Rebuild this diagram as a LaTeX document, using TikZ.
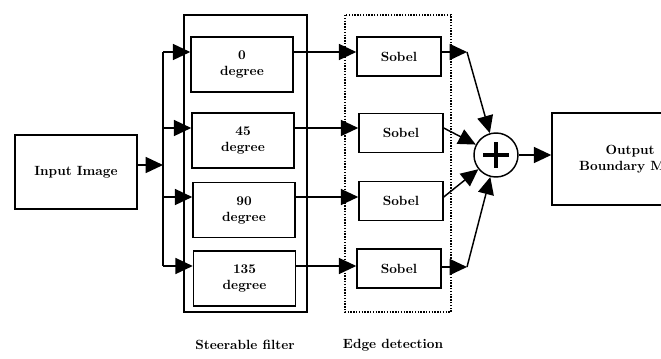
\documentclass[tikz,border=0pt]{standalone}
\usepackage{tikz}
\usetikzlibrary{arrows.meta,calc}

\begin{document}
\begin{tikzpicture}[x=0.75pt,y=-0.75pt,
    box/.style={draw,line width=1.1pt,align=center,font=\bfseries,inner sep=0pt},
    fbox/.style={box,minimum width=76.5pt,minimum height=41.25pt},
    sbox/.style={box,minimum width=63pt,minimum height=29.25pt},
    arr/.style={line width=1.1pt,-{Triangle[length=13pt,width=12pt]}},
    ln/.style={line width=1.1pt}]
    \clip (0,0) rectangle (661,358);
    \node[box,minimum width=91.5pt,minimum height=55.5pt] (in) at (76,172) {Input Image};
    \node[fbox] (f0) at (242,64.5) {0\\degree};
    \node[fbox] (f45) at (243,140.5) {45\\degree};
    \node[fbox] (f90) at (244,210) {90\\degree};
    \node[fbox] (f135) at (244.5,278.5) {135\\degree};
    \node[sbox] (s1) at (399,56.5) {Sobel};
    \node[sbox] (s2) at (401,133) {Sobel};
    \node[sbox] (s3) at (401,201) {Sobel};
    \node[sbox] (s4) at (399,268.5) {Sobel};
    \node[draw,circle,line width=1.1pt,minimum size=33pt,inner sep=0pt] (sum) at (496,155) {};
    \node[box,minimum width=117pt,minimum height=69pt] (out) at (630,159) {Output\\Boundary Map};
    \draw[line width=1.1pt] (184,15) rectangle (307,312);
    \draw[line width=1.1pt,densely dotted] (345,15) rectangle (451,312);
    \node[font=\bfseries] (lsf) at (245,345) {Steerable filter};
    \node[font=\bfseries] (led) at (393,345) {Edge detection};
    \coordinate (b0) at (163,165);
    \coordinate (r1) at (163,52);
    \coordinate (r2) at (163,128);
    \coordinate (r3) at (163,197);
    \coordinate (r4) at (163,266);
    \coordinate (k1) at (467,52);
    \coordinate (k4) at (467,267);
    \draw[ln] (r1) -- (r4);
    \draw[arr] (in.east |- b0) -- (b0);
    \foreach \r/\f/\s in {r1/f0/s1,r2/f45/s2,r3/f90/s3,r4/f135/s4} {
        \draw[arr] (\r) -- (\r -| \f.west);
        \draw[arr] (\r -| \f.east) -- (\r -| \s.west);
    }
    \draw[arr] (s1.east |- r1) -- (k1);
    \draw[arr] (k1) -- (sum);
    \draw[arr] (s2.east |- r2) -- (sum);
    \draw[arr] (s3.east |- r3) -- (sum);
    \draw[arr] (s4.east |- k4) -- (k4);
    \draw[arr] (k4) -- (sum);
    \draw[line width=3.5pt] ($(sum)+(-13,0)$) -- ($(sum)+(13,0)$);
    \draw[line width=3.5pt] ($(sum)+(0,-13)$) -- ($(sum)+(0,13)$);
    \draw[arr] (sum) -- (sum -| out.west);
\end{tikzpicture}
\end{document}
